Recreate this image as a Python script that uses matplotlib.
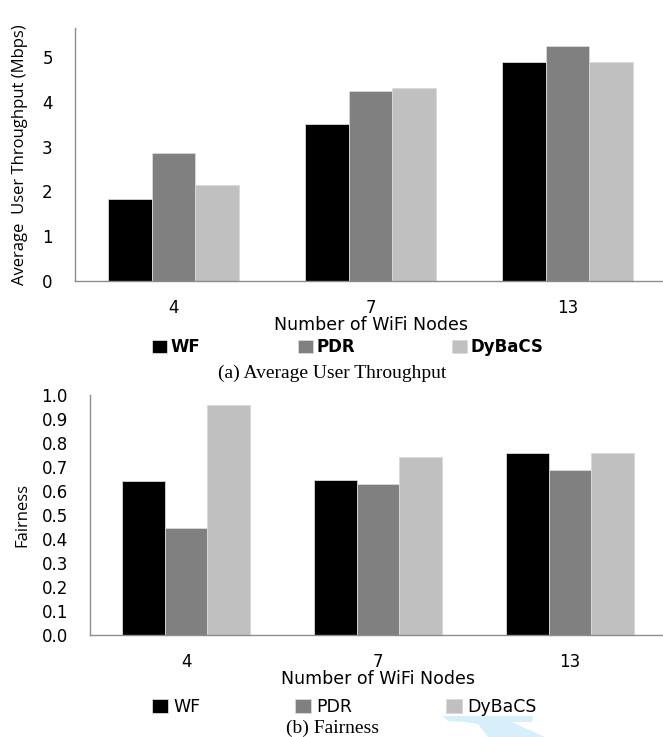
import numpy as np
import matplotlib
matplotlib.use("Agg")
import matplotlib.pyplot as plt
from matplotlib.patches import Polygon

# data
nodes = ["4", "7", "13"]
series = ["WF", "PDR", "DyBaCS"]
colors = ["#000000", "#808080", "#c0c0c0"]
throughput = {
    "WF": [1.84, 3.51, 4.89],
    "PDR": [2.86, 4.24, 5.25],
    "DyBaCS": [2.15, 4.30, 4.89],
}
fairness = {
    "WF": [0.642, 0.645, 0.760],
    "PDR": [0.445, 0.630, 0.686],
    "DyBaCS": [0.957, 0.741, 0.760],
}

plt.rcParams["font.family"] = ["DejaVu Sans"]
W, H = 663, 737
fig = plt.figure(figsize=(W / 100, H / 100), dpi=100)


def px(left, top, right, bottom):
    return [left / W, 1 - bottom / H, (right - left) / W, (bottom - top) / H]


def bars(ax, data, ylim, yticks, fmt):
    x = np.arange(len(nodes))
    bw = 0.223
    for i, s in enumerate(series):
        ax.bar(x + (i - 1) * bw, data[s], bw, color=colors[i], label=s,
               edgecolor="#d9d9d9", linewidth=0.6)
    ax.set_xlim(-0.5, len(nodes) - 0.5)
    ax.set_ylim(*ylim)
    ax.set_xticks(x)
    ax.set_xticklabels(nodes)
    ax.set_yticks(yticks)
    ax.set_yticklabels([fmt.format(t) for t in yticks])
    ax.tick_params(length=0, labelsize=12, colors="#000000")
    ax.tick_params(axis="x", pad=13)
    ax.tick_params(axis="y", pad=16)
    for sp in ["top", "right"]:
        ax.spines[sp].set_visible(False)
    for sp in ["left", "bottom"]:
        ax.spines[sp].set_color("#8c8c8c")
        ax.spines[sp].set_linewidth(1.0)


# (a) throughput
ax1 = fig.add_axes(px(75, 28, 666, 281))
bars(ax1, throughput, (0, 5.65), [0, 1, 2, 3, 4, 5], "{:d}")
ax1.set_ylabel("Average  User Throughput (Mbps)", fontsize=12, labelpad=10,
               family="Open Sans")
ax1.set_xlabel("Number of WiFi Nodes", fontsize=12.5, labelpad=-1)
h, l = ax1.get_legend_handles_labels()
fig.legend(h, l, loc="center", bbox_to_anchor=(348 / W, 1 - 347 / H), ncol=3,
           frameon=False, handlelength=0.9, handleheight=0.8, handletextpad=0.2,
           columnspacing=5.85, prop={"family": "DejaVu Sans", "weight": "bold", "size": 12})
fig.text(332 / W, 1 - 373 / H, "(a) Average User Throughput", ha="center", va="center",
         family="Liberation Serif", fontsize=14)

# (b) fairness
ax2 = fig.add_axes(px(90, 395, 666, 635))
bars(ax2, fairness, (0, 1.0), [round(0.1 * k, 1) for k in range(11)], "{:.1f}")
ax2.set_ylabel("Fairness", fontsize=12, labelpad=8, family="Open Sans")
ax2.set_xlabel("Number of WiFi Nodes", fontsize=12.5, labelpad=-1)
h, l = ax2.get_legend_handles_labels()
fig.legend(h, l, loc="center", bbox_to_anchor=(344.5 / W, 1 - 707 / H), ncol=3,
           frameon=False, handlelength=0.9, handleheight=0.8, handletextpad=0.3,
           columnspacing=5.45, prop={"size": 12.5})
fig.text(332 / W, 1 - 728 / H, "(b) Fairness", ha="center", va="center",
         family="Liberation Serif", fontsize=14)

# faint blue watermark fragment from the scanned page
wm = [(442, 716), (533, 716), (532, 722), (512, 722), (545, 737), (488, 737),
      (478, 724), (465, 722), (448, 721)]
fig.patches.append(Polygon([(x / W, 1 - y / H) for x, y in wm], closed=True,
                           transform=fig.transFigure, facecolor="#d6effb",
                           edgecolor="none", zorder=0))

fig.savefig("out.png", dpi=100)
